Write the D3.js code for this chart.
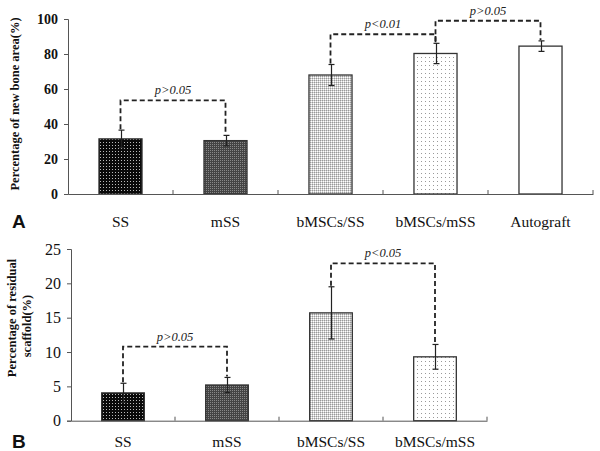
<!DOCTYPE html>
<html><head><meta charset="utf-8">
<script src="https://cdn.jsdelivr.net/npm/d3@7"></script>
<style>body{margin:0;background:#fff}svg{display:block}</style>
</head><body>
<script>
const catsA = ["SS","mSS","bMSCs/SS","bMSCs/mSS","Autograft"];
const valsA = [31.5, 30.5, 68, 80.3, 84.5];
const errA  = [5, 3, 6, 5.8, 3];
const ticksA = [0,20,40,60,80,100];
const sigA = [
  {a:"SS", b:"mSS", y:53.5, label:"p>0.05"},
  {a:"bMSCs/SS", b:"bMSCs/mSS", y:91.3, label:"p<0.01"},
  {a:"bMSCs/mSS", b:"Autograft", y:99, label:"p>0.05"}
];
const catsB = ["SS","mSS","bMSCs/SS","bMSCs/mSS"];
const valsB = [4.05, 5.2, 15.7, 9.3];
const errB  = [1.4, 1.1, 3.8, 1.8];
const ticksB = [0,5,10,15,20,25];
const sigB = [
  {a:"SS", b:"mSS", y:10.8, label:"p>0.05"},
  {a:"bMSCs/SS", b:"bMSCs/mSS", y:22.9, label:"p<0.05"}
];
const fills = {"SS":"url(#pSS)","mSS":"url(#pmSS)","bMSCs/SS":"url(#pbSS)","bMSCs/mSS":"url(#pbmSS)","Autograft":"#fff"};

const svg = d3.select("body").append("svg").attr("width",600).attr("height",451);
const defs = svg.append("defs");
function pat(id, size, bg, dots){
  const p = defs.append("pattern").attr("id",id).attr("patternUnits","userSpaceOnUse").attr("width",size).attr("height",size);
  p.append("rect").attr("width",size).attr("height",size).attr("fill",bg);
  dots.forEach(d=>p.append("rect").attr("x",d[0]).attr("y",d[1]).attr("width",d[2]).attr("height",d[2]).attr("fill",d[3]));
}
pat("pSS",3,"#0a0a0a",[[1,1,1,"#bbb"]]);
pat("pmSS",2,"#444",[[0,0,1,"#888"]]);
pat("pbSS",2,"#d0d0d0",[[0,0,1,"#999"],[1,1,1,"#fff"]]);
pat("pbmSS",4,"#fff",[[1,1,1,"#999"]]);

const serif = "'Liberation Serif','Times New Roman',serif";

function panel(cfg){
  const {cats, vals, errs, ticks, sig, x0, x1, yTop, yBot, ymax, tickBold, tickSize, labY, letter} = cfg;
  const x = d3.scaleBand().domain(cats).range([x0,x1]).paddingInner(0).paddingOuter(0);
  const y = d3.scaleLinear().domain([0,ymax]).range([yBot,yTop]);
  const g = svg.append("g");
  const bw = x.bandwidth()*0.41;
  g.selectAll("rect.bar").data(cats).join("rect")
    .attr("x",d=>x(d)+x.bandwidth()/2-bw/2).attr("width",bw)
    .attr("y",(d,i)=>y(vals[i])).attr("height",(d,i)=>yBot-y(vals[i]))
    .attr("fill",d=>fills[d]).attr("stroke","#333").attr("stroke-width",1.3);
  cats.forEach((c,i)=>{
    const cx = Math.round(x(c)+x.bandwidth()/2)+0.5;
    const col = "#222";
    g.append("line").attr("x1",cx).attr("x2",cx).attr("y1",y(vals[i]-errs[i])).attr("y2",y(vals[i]+errs[i])).attr("stroke",col).attr("stroke-width",1.2);
    [vals[i]-errs[i], vals[i]+errs[i]].forEach(v=>{
      g.append("line").attr("x1",cx-3).attr("x2",cx+3).attr("y1",y(v)).attr("y2",y(v)).attr("stroke",col).attr("stroke-width",1.2);
    });
  });
  const ya = g.append("g").attr("transform",`translate(${x0},0)`).call(d3.axisLeft(y).tickValues(ticks).tickSize(4).tickPadding(6));
  ya.select(".domain").attr("stroke","#555");
  ya.selectAll(".tick line").attr("stroke","#555");
  ya.selectAll("text").attr("font-family",serif).attr("font-size",tickSize).attr("font-weight",tickBold?"bold":"normal").attr("fill","#111");
  const xa = g.append("g").attr("transform",`translate(0,${yBot})`)
    .call(d3.axisBottom(x).tickSize(0).tickFormat(""));
  xa.select(".domain").attr("stroke","#555");
  const bounds = cats.map(c=>x(c)+x.bandwidth());
  g.selectAll("line.xt").data(bounds).join("line").attr("class","xt")
    .attr("x1",d=>d).attr("x2",d=>d).attr("y1",yBot).attr("y2",yBot-4).attr("stroke","#555");
  g.selectAll("text.cat").data(cats).join("text").attr("class","cat")
    .attr("x",d=>x(d)+x.bandwidth()/2).attr("y",labY).attr("text-anchor","middle")
    .attr("font-family",serif).attr("font-size",15.5).attr("fill","#111").text(d=>d);
  g.append("text").attr("x",12).attr("y",labY+1).attr("font-family","'Liberation Sans',Arial,sans-serif")
    .attr("font-weight","bold").attr("font-size",19).attr("fill","#111").text(letter);
  sig.forEach(s=>{
    const ia = cats.indexOf(s.a), ib = cats.indexOf(s.b);
    const xa_ = x(s.a)+x.bandwidth()/2, xb_ = x(s.b)+x.bandwidth()/2;
    const top = y(s.y);
    const ya1 = y(vals[ia]+errs[ia])-1, yb1 = y(vals[ib]+errs[ib])-1;
    g.append("path").attr("d",`M${xa_},${ya1}V${top}H${xb_}V${yb1}`)
      .attr("fill","none").attr("stroke","#222").attr("stroke-width",1.8).attr("stroke-dasharray","5,3");
    g.append("text").attr("x",(xa_+xb_)/2).attr("y",top-6).attr("text-anchor","middle")
      .attr("font-family",serif).attr("font-style","italic").attr("font-size",12.5).attr("fill","#222").text(s.label);
  });
  return g;
}

panel({cats:catsA, vals:valsA, errs:errA, ticks:ticksA, sig:sigA, x0:68, x1:593, yTop:19, yBot:194, ymax:100, tickBold:true, tickSize:14, labY:227, letter:"A"});
panel({cats:catsB, vals:valsB, errs:errB, ticks:ticksB, sig:sigB, x0:71, x1:487, yTop:249, yBot:420.7, ymax:25, tickBold:false, tickSize:16, labY:447, letter:"B"});

svg.append("text").attr("transform","translate(19,104) rotate(-90)").attr("text-anchor","middle")
  .attr("font-family",serif).attr("font-weight","bold").attr("font-size",12.5).attr("fill","#111")
  .text("Percentage of new bone area(%)");
const tB = svg.append("text").attr("transform","translate(16,318) rotate(-90)").attr("text-anchor","middle")
  .attr("font-family",serif).attr("font-weight","bold").attr("font-size",12.5).attr("fill","#111");
tB.append("tspan").attr("x",0).attr("y",0).text("Percentage of residual");
tB.append("tspan").attr("x",-8).attr("y",15).text("scaffold(%)");
</script>
</body></html>
